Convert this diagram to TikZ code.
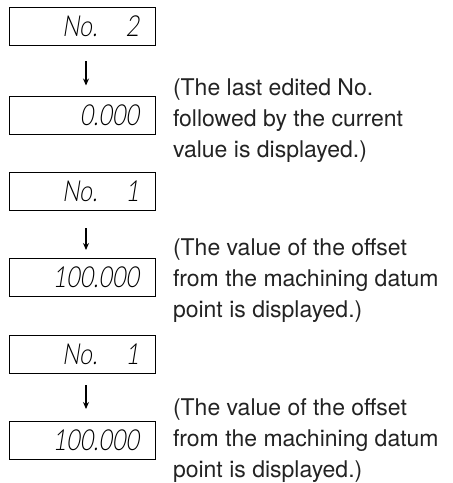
\documentclass[tikz,border=0pt]{standalone}
\usepackage{fontspec}
\setmainfont{TeX Gyre Heros}
\newfontfamily\dispfont[FakeSlant=0.16,FakeStretch=0.8]{Lato Light}
\usetikzlibrary{positioning,arrows.meta,calc}
\definecolor{InkGray}{RGB}{35,35,35}

\begin{document}
\begin{tikzpicture}[x=1pt, y=-1pt,
  every node/.style={inner sep=0pt, outer sep=0pt},
  lcd/.style={draw, line width=0.9pt, minimum width=146pt, minimum height=38pt,
    font=\dispfont\fontsize{29}{29}\selectfont, align=right, text width=114pt},
  note/.style={anchor=base west, align=left, text=InkGray,
    font=\fontsize{23}{31}\selectfont},
  flow arrow/.style={-{Stealth[length=7pt, width=6pt]}, line width=1.2pt}]
  \useasboundingbox (0,0) rectangle (453,483);

  % first group
  \node[lcd] (no2) at (82,26) {No.\hspace{28pt}2};
  \node[lcd] (val0) at (82,115.5) {0.000};
  \draw[flow arrow, shorten <=16pt, shorten >=11pt] ([xshift=4pt]no2.south) -- ([xshift=4pt]val0.north);
  \node[note] (txt0) at (173,157) {(The last edited No.\\followed by the current\\value is displayed.)};

  % second group
  \node[lcd] (no1a) at (82,191) {No.\hspace{28pt}1};
  \node[lcd] (val1a) at (82,277) {100.000};
  \draw[flow arrow, shorten <=18pt, shorten >=8pt] ([xshift=4pt]no1a.south) -- ([xshift=4pt]val1a.north);
  \node[note] (txt1) at (173,317) {(The value of the offset\\from the machining datum\\point is displayed.)};

  % third group
  \node[lcd] (no1b) at (82,354) {No.\hspace{28pt}1};
  \node[lcd] (val1b) at (82,440) {100.000};
  \draw[flow arrow, shorten <=12pt, shorten >=12pt] ([xshift=4pt]no1b.south) -- ([xshift=4pt]val1b.north);
  \node[note] (txt2) at (173,477) {(The value of the offset\\from the machining datum\\point is displayed.)};
\end{tikzpicture}
\end{document}
